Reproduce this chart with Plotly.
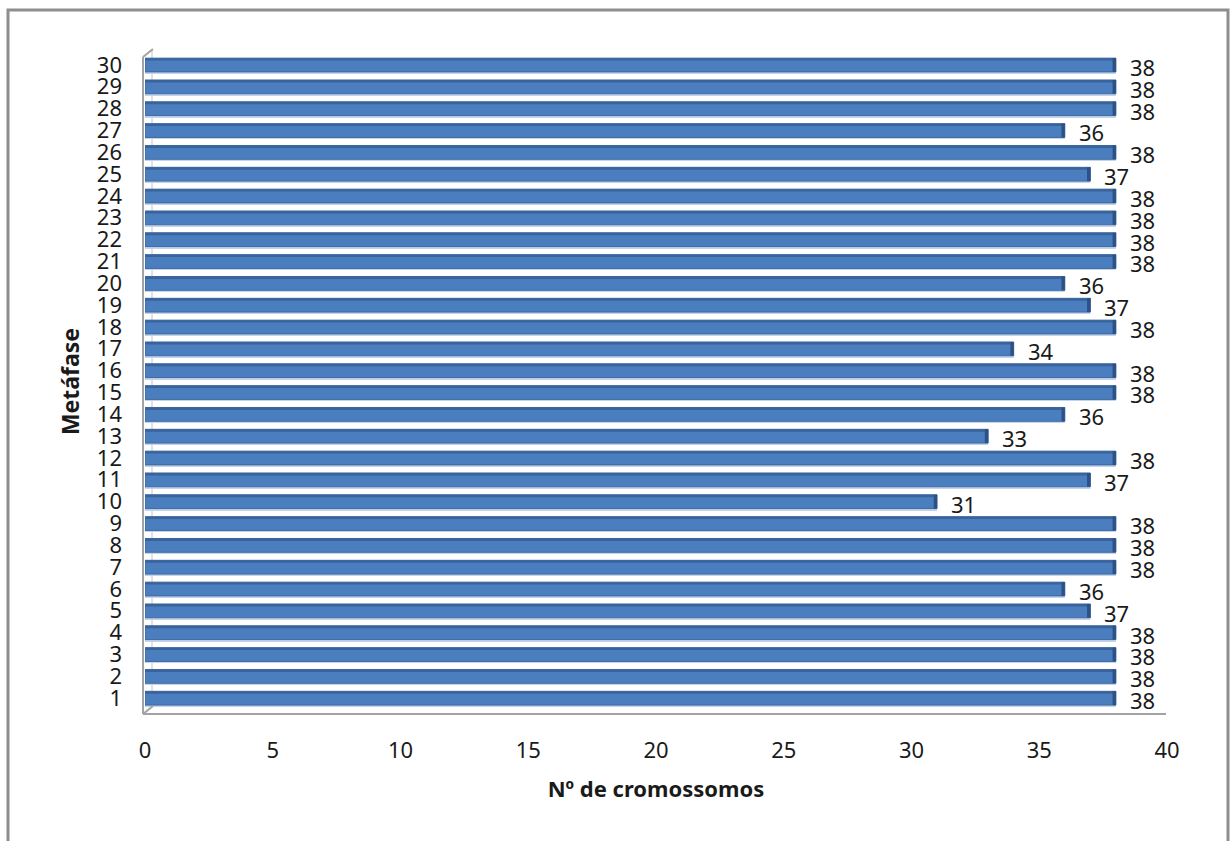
import plotly.graph_objects as go

# Chromosome counts per metaphase
metafase = list(range(1, 31))
cromossomos = [38, 38, 38, 38, 37, 36, 38, 38, 38, 31,
               37, 38, 33, 36, 38, 38, 34, 38, 37, 36,
               38, 38, 38, 38, 37, 38, 36, 38, 38, 38]
x_ticks = [0, 5, 10, 15, 20, 25, 30, 35, 40]

W, H = 1230, 841
L, R, T, B = 145, 1167, 54, 709


def px(x):
    return (x - L) / (R - L)


def py(y):
    return (B - y) / (B - T)


FONT = "Noto Sans"
TXT = "#1a1a1a"
cap = 0.13

fig = go.Figure()

# soft light edge under each bar
fig.add_trace(go.Bar(
    y=metafase, x=cromossomos, orientation="h",
    width=0.07, offset=-0.39,
    marker=dict(color="#C3D3E8", line=dict(width=0)),
    hoverinfo="skip", showlegend=False,
))
# front face
fig.add_trace(go.Bar(
    y=metafase, x=cromossomos, orientation="h",
    width=0.63, offset=-0.32,
    marker=dict(color="#4A7EBE", line=dict(color="#3C6AA4", width=1)),
    showlegend=False,
))
# darker top face
fig.add_trace(go.Bar(
    y=metafase, x=cromossomos, orientation="h",
    width=0.11, offset=0.2,
    marker=dict(color="#3A639B", line=dict(width=0)),
    hoverinfo="skip", showlegend=False,
))
# darker end cap
fig.add_trace(go.Bar(
    y=metafase, x=[cap] * len(cromossomos),
    base=[v - cap for v in cromossomos], orientation="h",
    width=0.63, offset=-0.32,
    marker=dict(color="#2D5185", line=dict(width=0)),
    hoverinfo="skip", showlegend=False,
))

# value labels
for m, v in zip(metafase, cromossomos):
    fig.add_annotation(
        x=v, y=m, text=str(v), showarrow=False,
        xanchor="left", yanchor="middle", xshift=12, yshift=-2,
        font=dict(family=FONT, size=22, color=TXT),
    )

line_front = dict(color="#A3A3A3", width=2)
line_back = dict(color="#C4C4C4", width=1)
shapes = [
    # outer frame
    dict(type="rect", xref="paper", yref="paper",
         x0=px(8), x1=px(1228), y0=py(860), y1=py(10),
         line=dict(color="#8E8E8E", width=3), layer="below"),
    # back wall edge
    dict(type="line", xref="paper", yref="paper",
         x0=px(152), x1=px(152), y0=py(706), y1=py(50),
         line=line_back, layer="below"),
    # front wall edge
    dict(type="line", xref="paper", yref="paper",
         x0=px(143), x1=px(143), y0=py(714), y1=py(57),
         line=line_front),
    dict(type="line", xref="paper", yref="paper",
         x0=px(143), x1=px(153), y0=py(57), y1=py(49),
         line=line_front),
    # floor
    dict(type="line", xref="paper", yref="paper",
         x0=px(143), x1=px(1166), y0=py(714), y1=py(714),
         line=line_front),
    dict(type="line", xref="paper", yref="paper",
         x0=px(143), x1=px(153), y0=py(714), y1=py(706),
         line=line_front),
]

fig.update_layout(
    width=W, height=H,
    margin=dict(l=L, r=W - R, t=T, b=H - B, pad=0),
    paper_bgcolor="white", plot_bgcolor="white",
    barmode="overlay", bargap=0.3,
    shapes=shapes,
    font=dict(family=FONT, size=22, color=TXT),
    xaxis=dict(
        range=[0, 40], tickvals=x_ticks, ticktext=[str(t) for t in x_ticks],
        showgrid=False, zeroline=False, showline=False, ticks="",
        ticklabelstandoff=26,
        tickfont=dict(family=FONT, size=22, color=TXT),
        title=dict(text="<b>Nº de cromossomos</b>", standoff=18,
                   font=dict(family=FONT, size=22, color=TXT)),
    ),
    yaxis=dict(
        range=[0.5, 30.5], tickvals=metafase,
        ticktext=[str(m) for m in metafase],
        showgrid=False, zeroline=False, showline=False, ticks="",
        ticklabelstandoff=22,
        tickfont=dict(family=FONT, size=22, color=TXT),
        title=dict(text="<b>Metáfase</b>", standoff=10,
                   font=dict(family=FONT, size=23, color=TXT)),
    ),
)

fig.write_html("out.html")
